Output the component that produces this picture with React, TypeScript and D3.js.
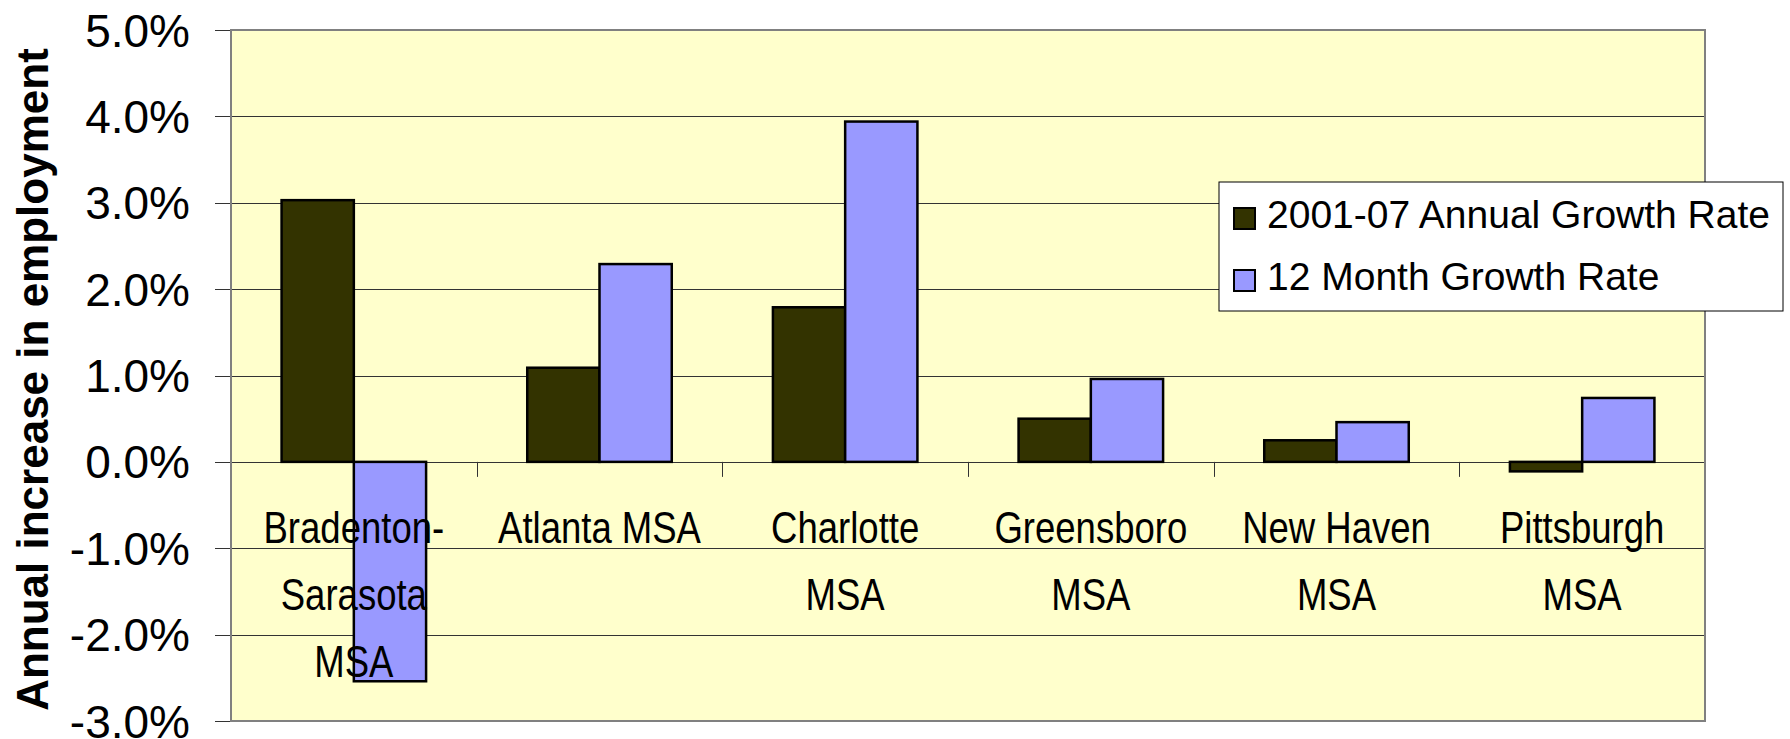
import * as d3 from 'd3'
import React from 'react'

const categories: string[][] = [
    ['Bradenton-', 'Sarasota', 'MSA'],
    ['Atlanta MSA'],
    ['Charlotte', 'MSA'],
    ['Greensboro', 'MSA'],
    ['New Haven', 'MSA'],
    ['Pittsburgh', 'MSA'],
]
const annualGrowth = [3.03, 1.09, 1.79, 0.5, 0.25, -0.11]
const monthGrowth = [-2.54, 2.29, 3.94, 0.96, 0.46, 0.74]
const seriesNames = ['2001-07 Annual Growth Rate', '12 Month Growth Rate']
const seriesColors = ['#333300', '#9999ff']
const yTicks = [5, 4, 3, 2, 1, 0, -1, -2, -3]
const yTitle = 'Annual increase in employment'

const W = 1790
const H = 739
const plot = { left: 231, top: 30, right: 1705, bottom: 721 }

const App: React.FC = () => {
    const keys = categories.map((c) => c.join(' '))
    const x = d3.scaleBand().domain(keys).range([plot.left, plot.right]).padding(0)
    const xInner = d3
        .scaleBand()
        .domain(['0', '1'])
        .range([0, x.bandwidth()])
        .paddingInner(0)
        .paddingOuter(0.7)
    const y = d3.scaleLinear().domain([-3, 5]).range([plot.bottom, plot.top])
    // plain hyphen for negatives, like the original
    const fmt = (v: number) => v.toFixed(1) + '%'
    const y0 = y(0)

    const values = [annualGrowth, monthGrowth]

    // boundaries between categories for the little ticks
    const bounds = keys.map((k) => x(k) as number).concat([plot.right])

    const font = "'Liberation Sans', Arial, sans-serif"

    return (
        <svg
            width={W}
            height={H}
            style={{ position: 'absolute', left: 0, top: 0, background: '#fff' }}
        >
            {/* plot background */}
            <rect
                x={plot.left}
                y={plot.top}
                width={plot.right - plot.left}
                height={plot.bottom - plot.top}
                fill="#ffffcc"
            />
            {/* gridlines */}
            {yTicks.map((t) => (
                <line
                    key={'g' + t}
                    x1={plot.left}
                    x2={plot.right}
                    y1={Math.round(y(t)) + 0.5}
                    y2={Math.round(y(t)) + 0.5}
                    stroke="#333"
                    strokeWidth={1}
                />
            ))}
            {/* y ticks + labels */}
            {yTicks.map((t) => (
                <g key={'t' + t}>
                    <line
                        x1={215}
                        x2={plot.left}
                        y1={Math.round(y(t)) + 0.5}
                        y2={Math.round(y(t)) + 0.5}
                        stroke="#333"
                        strokeWidth={1}
                    />
                    <text
                        x={190}
                        y={y(t)}
                        dy="0.36em"
                        textAnchor="end"
                        fontFamily={font}
                        fontSize={46}
                        fill="#000"
                    >
                        {fmt(t)}
                    </text>
                </g>
            ))}
            {/* category ticks on zero line */}
            {bounds.map((b, i) => (
                <line
                    key={'b' + i}
                    x1={Math.round(b) + 0.5}
                    x2={Math.round(b) + 0.5}
                    y1={y0}
                    y2={y0 + 15}
                    stroke="#333"
                    strokeWidth={1}
                />
            ))}
            {/* bars */}
            {values.map((vals, s) =>
                vals.map((v, i) => (
                    <rect
                        key={'r' + s + '-' + i}
                        x={(x(keys[i]) as number) + (xInner(String(s)) as number)}
                        y={Math.min(y(v), y0)}
                        width={xInner.bandwidth()}
                        height={Math.abs(y(v) - y0)}
                        fill={seriesColors[s]}
                        stroke="#000"
                        strokeWidth={2.5}
                    />
                ))
            )}
            {/* category labels, squeezed to look like a narrow face */}
            {categories.map((lines, i) => (
                <text
                    key={'c' + i}
                    transform={`translate(${(x(keys[i]) as number) + x.bandwidth() / 2}, ${y0 + 81}) scale(0.83, 1)`}
                    textAnchor="middle"
                    fontFamily={font}
                    fontSize={44}
                    fill="#000"
                >
                    {lines.map((l, j) => (
                        <tspan key={j} x={0} dy={j === 0 ? 0 : 67}>
                            {l}
                        </tspan>
                    ))}
                </text>
            ))}
            {/* plot border */}
            <rect
                x={plot.left}
                y={plot.top}
                width={plot.right - plot.left}
                height={plot.bottom - plot.top}
                fill="none"
                stroke="#808080"
                strokeWidth={2}
            />
            {/* y title */}
            <text
                transform={`translate(48, ${(plot.top + plot.bottom) / 2 + 4}) rotate(-90)`}
                textAnchor="middle"
                fontFamily={font}
                fontWeight="bold"
                fontSize={44}
                fill="#000"
            >
                {yTitle}
            </text>
            {/* legend */}
            <g transform="translate(1219, 182)">
                <rect x={0} y={0} width={564} height={129} fill="#fff" stroke="#000" strokeWidth={1} />
                {seriesNames.map((n, i) => (
                    <g key={'l' + i} transform={`translate(0, ${i * 62})`}>
                        <rect
                            x={15}
                            y={26}
                            width={21}
                            height={21}
                            fill={seriesColors[i]}
                            stroke="#000"
                            strokeWidth={2}
                        />
                        <text x={48} y={46} fontFamily={font} fontSize={39} fill="#000">
                            {n}
                        </text>
                    </g>
                ))}
            </g>
        </svg>
    )
}

export default App
